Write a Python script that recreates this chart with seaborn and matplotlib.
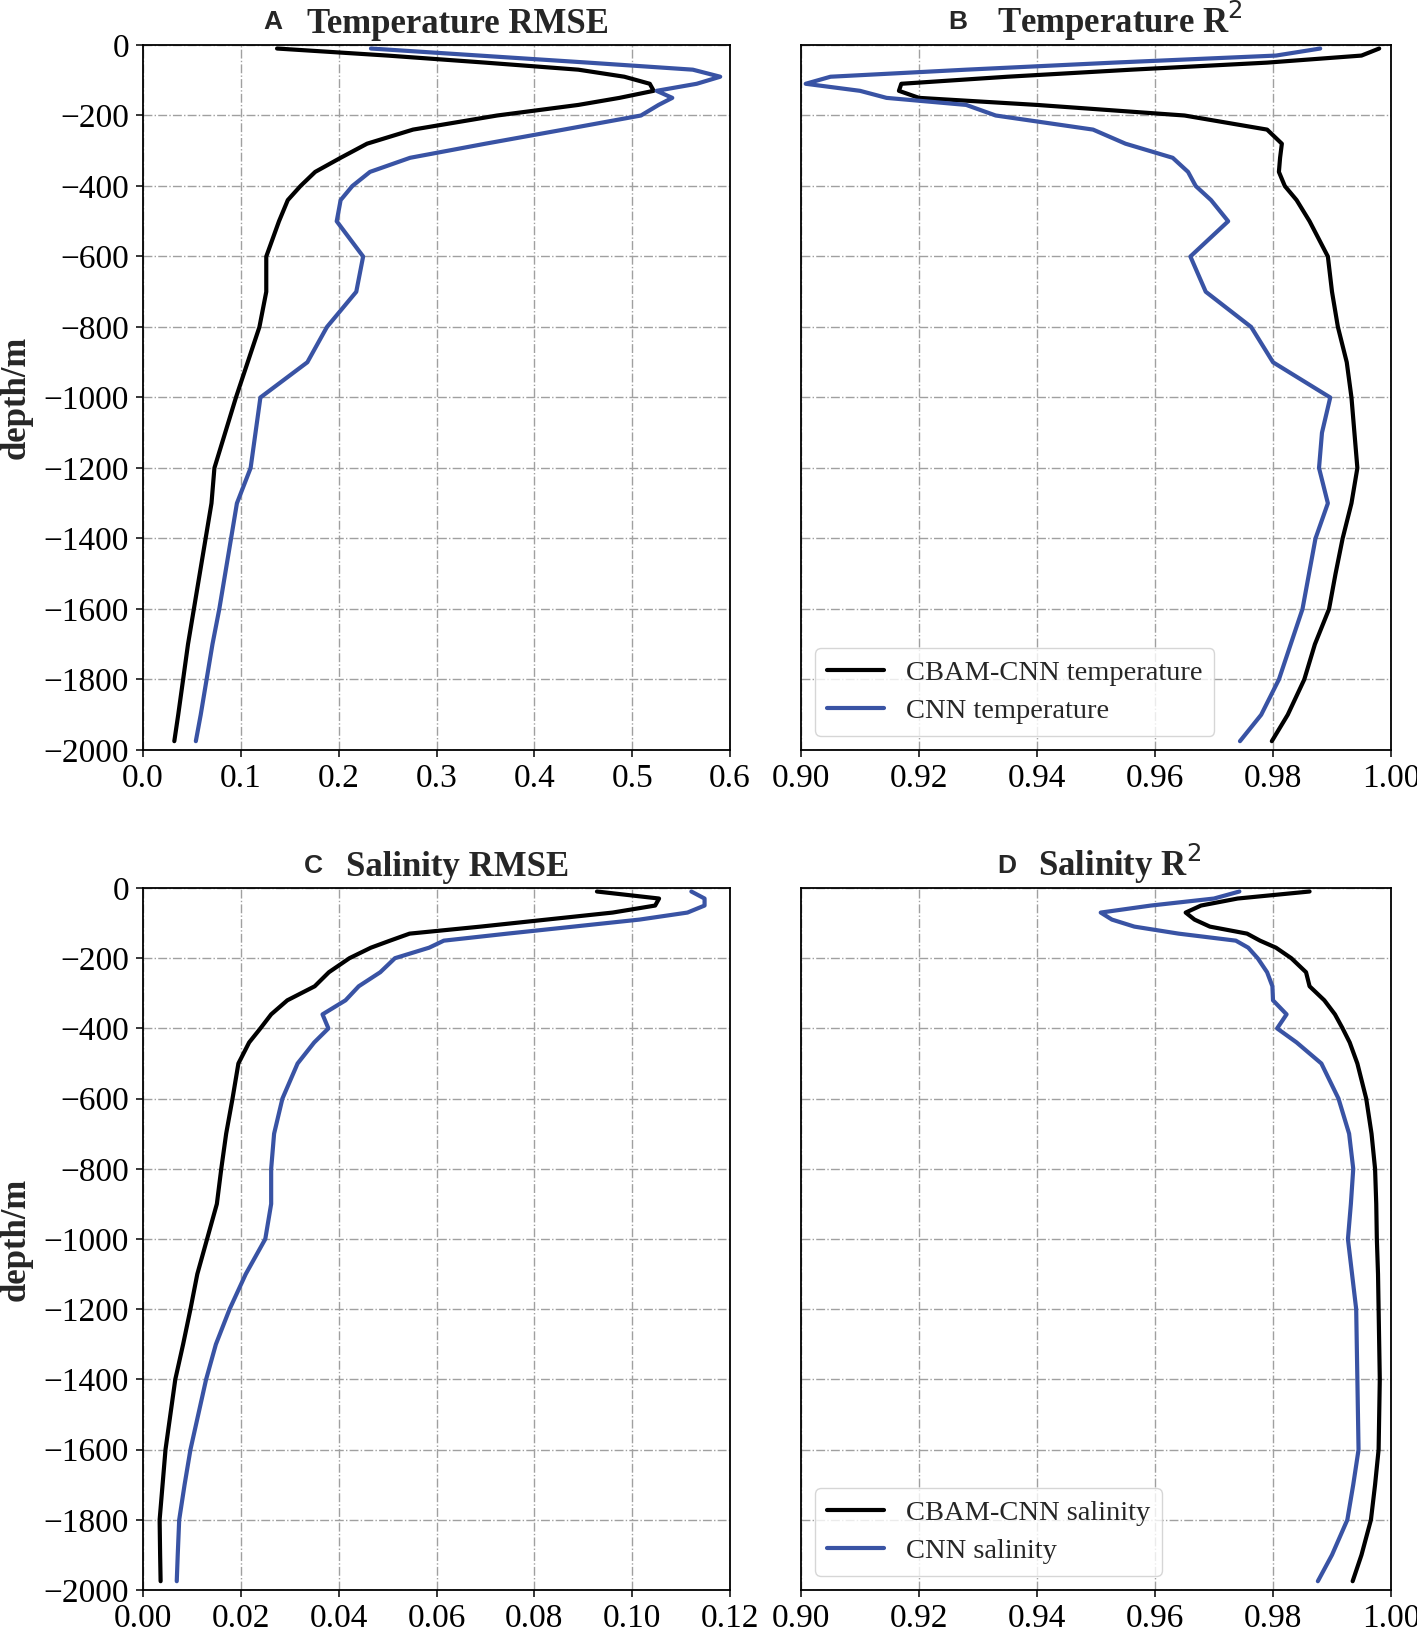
import numpy as np
import pandas as pd
import matplotlib
matplotlib.use("Agg")
import matplotlib.pyplot as plt
import seaborn as sns

# shared depth levels (m)
depth = [-10, -30, -50, -70, -90, -110, -130, -150, -170, -200, -240, -280, -320,
         -360, -400, -440, -500, -600, -700, -800, -900, -1000, -1100, -1200,
         -1300, -1400, -1500, -1600, -1700, -1800, -1900, -1975]

# A: temperature RMSE
temp_rmse_cbam = [0.137, 0.25, 0.35, 0.445, 0.492, 0.518, 0.522, 0.487, 0.445, 0.362,
                  0.276, 0.229, 0.202, 0.176, 0.161, 0.148, 0.139, 0.126, 0.126, 0.119,
                  0.107, 0.095, 0.084, 0.073, 0.070, 0.064, 0.058, 0.052, 0.046, 0.041,
                  0.036, 0.032]
temp_rmse_cnn = [0.233, 0.344, 0.455, 0.562, 0.590, 0.566, 0.525, 0.541, 0.527, 0.509,
                 0.43, 0.35, 0.273, 0.232, 0.214, 0.202, 0.198, 0.225, 0.218, 0.188,
                 0.168, 0.120, 0.115, 0.110, 0.096, 0.090, 0.084, 0.078, 0.071, 0.065,
                 0.059, 0.054]

# B: temperature R2
temp_r2_cbam = [0.998, 0.995, 0.979, 0.956, 0.935, 0.917, 0.9166, 0.920, 0.940, 0.965,
                0.979, 0.9815, 0.9812, 0.981, 0.982, 0.984, 0.9862, 0.9893, 0.990, 0.991,
                0.9925, 0.9933, 0.9938, 0.9943, 0.9933, 0.9918, 0.9906, 0.9895, 0.9871,
                0.9853, 0.9825, 0.9798]
temp_r2_cnn = [0.988, 0.9805, 0.953, 0.928, 0.905, 0.9008, 0.910, 0.9145, 0.928, 0.933,
               0.9495, 0.955, 0.963, 0.9656, 0.9669, 0.9695, 0.9724, 0.966, 0.9686, 0.9763,
               0.980, 0.9897, 0.9883, 0.9878, 0.9893, 0.9872, 0.9861, 0.985, 0.983, 0.981,
               0.978, 0.9744]

# C: salinity RMSE
sal_rmse_cbam = [0.0928, 0.1055, 0.1047, 0.0960, 0.0825, 0.0690, 0.0545, 0.0505, 0.0466,
                 0.0422, 0.0380, 0.0351, 0.0295, 0.0262, 0.0240, 0.0217, 0.0195, 0.0183,
                 0.0170, 0.0160, 0.0151, 0.0131, 0.0111, 0.0097, 0.0082, 0.0066, 0.0056,
                 0.0046, 0.0040, 0.0034, 0.0035, 0.0036]
sal_rmse_cnn = [0.1121, 0.1148, 0.1148, 0.1113, 0.1015, 0.088, 0.0745, 0.0615, 0.0585,
                0.0515, 0.0485, 0.0441, 0.0414, 0.0367, 0.0379, 0.0350, 0.0316, 0.0285,
                0.0268, 0.0262, 0.0262, 0.0250, 0.0210, 0.0177, 0.0149, 0.0129, 0.0113,
                0.0097, 0.0085, 0.0074, 0.0071, 0.0069]

# D: salinity R2
sal_r2_cbam = [0.9862, 0.974, 0.9678, 0.9652, 0.9667, 0.9693, 0.9756, 0.9778, 0.9805,
               0.9831, 0.9856, 0.9862, 0.9887, 0.9905, 0.9918, 0.993, 0.9943, 0.9958,
               0.9967, 0.9973, 0.9975, 0.9976, 0.9978, 0.9979, 0.998, 0.9981, 0.998,
               0.9979, 0.9973, 0.9966, 0.995, 0.9935]
sal_r2_cnn = [0.9743, 0.9700, 0.9593, 0.9508, 0.9527, 0.9565, 0.964, 0.9737, 0.9758,
              0.9774, 0.979, 0.9799, 0.980, 0.9823, 0.9807, 0.984, 0.9882, 0.9911,
              0.9929, 0.9936, 0.9932, 0.9927, 0.9934, 0.9941, 0.9942, 0.9943, 0.9944,
              0.9945, 0.9936, 0.9926, 0.990, 0.9876]

BLUE = "#3953a4"

sns.set_style("ticks")
plt.rcParams["font.family"] = ["Liberation Serif", "DejaVu Sans"]
plt.rcParams["mathtext.fontset"] = "dejavusans"

fig = plt.figure(figsize=(14.17, 16.29), dpi=100)

W, H = 1417, 1629
def box(l, t, r, b):
    return [l / W, 1 - b / H, (r - l) / W, (b - t) / H]

panels = [
    dict(pos=box(143, 45, 730, 750), cbam=temp_rmse_cbam, cnn=temp_rmse_cnn,
         letter="A", title="Temperature RMSE", lx=0.205, tx=0.28,
         xlim=(0, 0.6), xticks=np.arange(0, 0.61, 0.1), fmt="{:.1f}", ylab=True,
         leg=None),
    dict(pos=box(801, 45, 1391, 750), cbam=temp_r2_cbam, cnn=temp_r2_cnn,
         letter="B", title="Temperature R$^2$", lx=0.25, tx=0.332,
         xlim=(0.9, 1.0), xticks=np.arange(0.9, 1.001, 0.02), fmt="{:.2f}", ylab=False,
         leg=("CBAM-CNN temperature", "CNN temperature")),
    dict(pos=box(143, 888, 730, 1590), cbam=sal_rmse_cbam, cnn=sal_rmse_cnn,
         letter="C", title="Salinity RMSE", lx=0.274, tx=0.346,
         xlim=(0, 0.12), xticks=np.arange(0, 0.121, 0.02), fmt="{:.2f}", ylab=True,
         leg=None),
    dict(pos=box(801, 888, 1391, 1590), cbam=sal_r2_cbam, cnn=sal_r2_cnn,
         letter="D", title="Salinity R$^2$", lx=0.333, tx=0.401,
         xlim=(0.9, 1.0), xticks=np.arange(0.9, 1.001, 0.02), fmt="{:.2f}", ylab=False,
         leg=("CBAM-CNN salinity", "CNN salinity")),
]

for p in panels:
    ax = fig.add_axes(p["pos"])
    labels = p["leg"] if p["leg"] else ("CBAM-CNN", "CNN")
    df = pd.DataFrame({"depth": depth, "cbam": p["cbam"], "cnn": p["cnn"]})
    sns.lineplot(data=df, x="cbam", y="depth", sort=False, estimator=None,
                 color="black", lw=3.0, label=labels[0], ax=ax)
    sns.lineplot(data=df, x="cnn", y="depth", sort=False, estimator=None,
                 color=BLUE, lw=3.0, label=labels[1], ax=ax)

    ax.set_xlim(*p["xlim"])
    ax.set_ylim(-2000, 0)
    ax.set_xticks(p["xticks"])
    ax.set_xticklabels([p["fmt"].format(v) for v in p["xticks"]])
    ax.set_yticks(np.arange(-2000, 1, 200))
    ax.grid(True, linestyle="-.", color="#a0a0a0", lw=1.0)
    ax.set_xlabel("")
    for s in ax.spines.values():
        s.set_visible(True)
        s.set_linewidth(1.3)
        s.set_color("black")
    ax.tick_params(labelsize=24, length=5, width=1.1, pad=5, colors="black")

    if p["ylab"]:
        ax.set_ylabel("depth/m", fontsize=25, fontweight="bold")
        ax.yaxis.set_label_coords(-0.188, 0.5)
    else:
        ax.set_ylabel("")
        ax.tick_params(axis="y", left=False, labelleft=False)

    ax.text(p["lx"], 1.022, p["letter"], transform=ax.transAxes, fontsize=19,
            fontweight="bold", family=["Liberation Sans"], ha="left", va="baseline")
    ax.text(p["tx"], 1.017, p["title"], transform=ax.transAxes, fontsize=25,
            fontweight="bold", ha="left", va="baseline")

    if p["leg"]:
        ax.legend(loc="lower left", fontsize=20.5, frameon=True, fancybox=True,
                  edgecolor="#cccccc", handlelength=2.0, labelspacing=0.45)
    else:
        ax.get_legend().remove()

fig.savefig("out.png", dpi=100)
